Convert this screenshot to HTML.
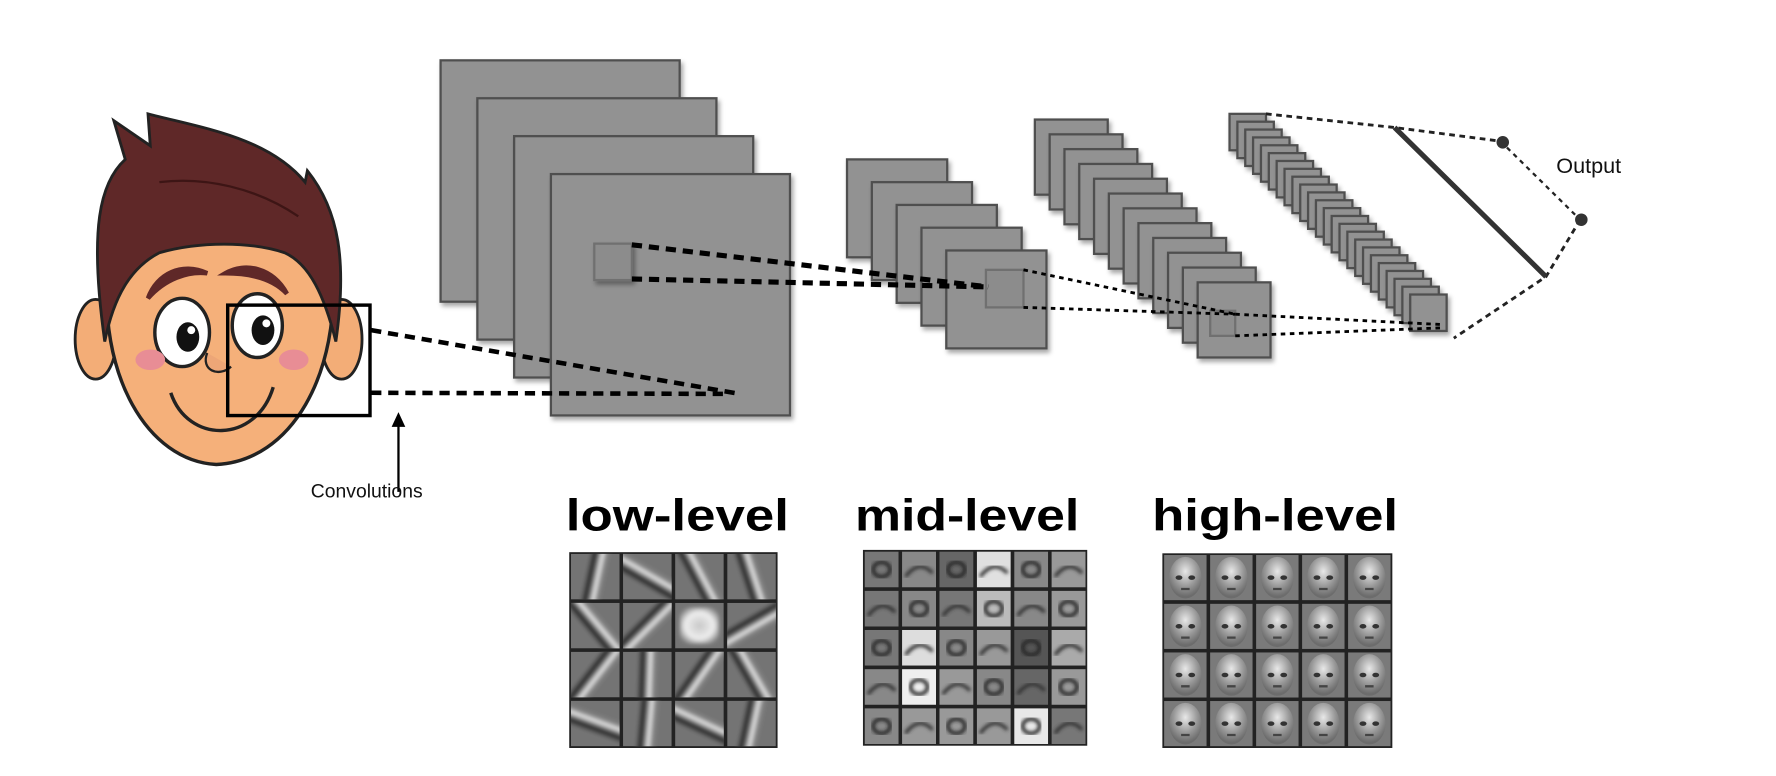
<!DOCTYPE html>
<html><head><meta charset="utf-8"><style>
html,body{margin:0;padding:0;background:#fff;width:1776px;height:776px;overflow:hidden}
svg{display:block}
</style></head><body>
<svg id="s" width="1776" height="776" viewBox="0 0 1560 681.6" preserveAspectRatio="none" xmlns="http://www.w3.org/2000/svg">
<defs>
<filter id="sh" x="-20%" y="-20%" width="150%" height="150%"><feDropShadow dx="2" dy="3" stdDeviation="2" flood-color="#000" flood-opacity="0.35"/></filter>
<filter id="bl"><feGaussianBlur stdDeviation="1.6"/></filter>
<linearGradient id="stripe" x1="0" x2="1" y1="0" y2="0">
<stop offset="0" stop-color="#777"/><stop offset="0.25" stop-color="#222"/><stop offset="0.45" stop-color="#777"/><stop offset="0.62" stop-color="#eee"/><stop offset="0.8" stop-color="#888"/><stop offset="1" stop-color="#777"/></linearGradient>
<radialGradient id="face" cx="0.5" cy="0.35" r="0.6"><stop offset="0" stop-color="#e8e8e8"/><stop offset="0.6" stop-color="#9a9a9a"/><stop offset="1" stop-color="#6c6c6c"/></radialGradient>
<radialGradient id="blob" cx="0.5" cy="0.5" r="0.6"><stop offset="0" stop-color="#c8c8c8"/><stop offset="0.6" stop-color="#eeeeee"/><stop offset="1" stop-color="#777"/></radialGradient>
</defs>

<!-- face -->
<g>
<ellipse cx="84" cy="298" rx="18" ry="35" fill="#f3ad77" stroke="#222" stroke-width="2.5"/>
<ellipse cx="300" cy="298" rx="18" ry="35" fill="#f3ad77" stroke="#222" stroke-width="2.5"/>
<path d="M95,230 C85,330 130,405 190,408 C255,405 300,330 292,230 C285,170 105,170 95,230 Z" fill="#f5b07a" stroke="#222" stroke-width="3"/>
<path d="M92,300 C78,200 88,160 110,140 L100,106 L132,128 L130,100 C175,112 235,120 268,160 L270,150 C298,185 305,230 295,300 C285,260 272,232 250,222 C220,212 175,212 140,222 C115,235 100,260 92,300 Z" fill="#5f2828" stroke="#222" stroke-width="2.5"/>
<path d="M140,160 C180,155 225,165 262,190" fill="none" stroke="#3d1515" stroke-width="2"/>
<path d="M130,262 C138,240 160,230 182,240 C165,238 145,245 130,262 Z" fill="#5f2828" stroke="#5f2828" stroke-width="4"/>
<path d="M198,240 C215,230 240,235 252,258 C240,245 220,240 198,240 Z" fill="#5f2828" stroke="#5f2828" stroke-width="4"/>
<ellipse cx="160" cy="292" rx="24" ry="30" fill="#fff" stroke="#222" stroke-width="3"/>
<ellipse cx="226" cy="286" rx="22" ry="28" fill="#fff" stroke="#222" stroke-width="3"/>
<ellipse cx="165" cy="296" rx="10" ry="13" fill="#111"/><circle cx="168" cy="290" r="3.5" fill="#fff"/>
<ellipse cx="231" cy="290" rx="10" ry="13" fill="#111"/><circle cx="234" cy="284" r="3.5" fill="#fff"/>
<ellipse cx="132" cy="316" rx="13" ry="9" fill="#e88d95"/>
<ellipse cx="258" cy="316" rx="13" ry="9" fill="#e88d95"/>
<path d="M182,310 C176,325 192,332 203,322" fill="#eda677" stroke="#222" stroke-width="2"/>
<path d="M150,345 C165,390 225,390 240,340" fill="none" stroke="#222" stroke-width="3"/>
<rect x="200" y="268" width="125" height="97" fill="none" stroke="#000" stroke-width="3"/>
</g>

<g>
<line x1="350" y1="432" x2="350" y2="372" stroke="#000" stroke-width="2"/>
<path d="M344,375 L350,362 L356,375 Z" fill="#000"/>
<text x="273" y="437" font-family="Liberation Sans, sans-serif" font-size="17" fill="#111">Convolutions</text>
</g>

<g id="layers"></g>

<!-- conv lines from face (over layers) -->
<g stroke="#000" stroke-width="4" stroke-dasharray="9 6" fill="none">
<line x1="326" y1="290" x2="650" y2="346"/>
<line x1="326" y1="345" x2="640" y2="346"/>
</g>

<!-- output -->
<g fill="none" stroke="#222">
<path d="M1112,100 L1225,112 L1318,124" stroke-width="2.5" stroke-dasharray="5 4"/>
<path d="M1318,124 L1388,193" stroke-width="2" stroke-dasharray="4 4"/>
<path d="M1388,193 L1358,243 L1277,297" stroke-width="2.5" stroke-dasharray="5 4"/>
<line x1="1225" y1="112" x2="1358" y2="243" stroke="#333" stroke-width="4.5"/>
</g>
<circle cx="1320" cy="125" r="5.5" fill="#333"/>
<circle cx="1389" cy="193" r="5.5" fill="#333"/>
<text x="1367" y="152" font-family="Liberation Sans, sans-serif" font-size="19" fill="#111">Output</text>

<!-- feature labels -->
<g font-family="Liberation Sans, sans-serif" font-weight="bold" font-size="39" fill="#000">
<text x="497" y="466" textLength="196" lengthAdjust="spacingAndGlyphs">low-level</text>
<text x="751" y="466" textLength="197" lengthAdjust="spacingAndGlyphs">mid-level</text>
<text x="1012" y="466" textLength="216" lengthAdjust="spacingAndGlyphs">high-level</text>
</g>
<g id="grids"></g>
</svg>
<script>
const NS='http://www.w3.org/2000/svg';
function mk(tag,attrs,parent){const e=document.createElementNS(NS,tag);for(const k in attrs)e.setAttribute(k,attrs[k]);parent.appendChild(e);return e;}
const L=document.getElementById('layers');
function stack(name,x0,y0,dx,dy,n,w,h){
  const g=mk('g',{},L);
  
  
  for(let i=0;i<n;i++){
    const r=mk('rect',{x:x0+dx*i,y:y0+dy*i,width:w,height:h,fill:'#929292',stroke:'#505050','stroke-width':2,filter:'url(#sh)'},g);
    
    
  }
  return g;
}
stack('conv-layer-1',387,53,32.3,33.3,4,210,212);
let k1=mk('rect',{x:522,y:214,width:33,height:32,fill:'#8c8c8c',stroke:'#707070','stroke-width':2,filter:'url(#sh)'},L);


stack('conv-layer-2',744,140,21.8,20,5,88,86);
let k2=mk('rect',{x:866,y:237,width:33,height:33,fill:'#8c8c8c',stroke:'#707070','stroke-width':2},L);


stack('conv-layer-3',909,105,13,13,12,64,66);
let k3=mk('rect',{x:1063,y:273,width:22,height:22,fill:'#8c8c8c',stroke:'#707070','stroke-width':2},L);


stack('pool-layer-4',1080,100,6.9,6.9,24,32,32);
const con=mk('g',{fill:'none',stroke:'#000'},L);


[[555,215,868,252,4.5,'9 6'],[555,245,868,252,4.5,'9 6'],[899,237,1085,276,2.5,'4 4'],[899,270,1085,276,2.5,'4 4'],[1085,276,1265,285,2.5,'4 4'],[1085,295,1265,288,2.5,'4 4']].forEach(a=>mk('line',{x1:a[0],y1:a[1],x2:a[2],y2:a[3],'stroke-width':a[4],'stroke-dasharray':a[5]},con));

const G=document.getElementById('grids');
function grid(name,x,y,w,h,cols,rows,draw){
  const g=mk('g',{},G);
  
  
  mk('rect',{x:x,y:y,width:w,height:h,fill:'#222'},g);
  const cw=w/cols,ch=h/rows;
  for(let r=0;r<rows;r++)for(let c=0;c<cols;c++){
    const cx=x+c*cw+1.5,cy=y+r*ch+1.5,ww=cw-3,hh=ch-3;
    const cg=mk('g',{},g);
    const id=name+r+'_'+c;
    const cl=mk('clipPath',{id:id},g);mk('rect',{x:cx,y:cy,width:ww,height:hh},cl);
    cg.setAttribute('clip-path','url(#'+id+')');
    draw(cg,cx,cy,ww,hh,r,c);
  }
}
const lowAngles=[[12,-60,-28,-18],[-40,45,null,60],[38,2,35,-30],[-70,5,-65,12]];
grid('low-level-filters',500,485,183,172,4,4,(g,x,y,w,h,r,c)=>{
  mk('rect',{x:x,y:y,width:w,height:h,fill:'#747474'},g);
  const a=lowAngles[r][c];
  if(a===null){mk('rect',{x:x+4,y:y+4,width:w-8,height:h-8,fill:'url(#blob)',filter:'url(#bl)'},g);return;}
  mk('rect',{x:x+w/2-9,y:y-h,width:18,height:h*3,fill:'url(#stripe)',filter:'url(#bl)',transform:`rotate(${a} ${x+w/2} ${y+h/2})`},g);
});
const midShade=[['#777','#888','#666','#e0e0e0','#888','#999'],['#777','#888','#777','#bbb','#888','#999'],['#777','#ddd','#888','#999','#555','#aaa'],['#888','#eee','#999','#888','#666','#999'],['#888','#999','#999','#999','#e8e8e8','#777']];
grid('mid-level-features',758,483,197,172,6,5,(g,x,y,w,h,r,c)=>{
  mk('rect',{x:x,y:y,width:w,height:h,fill:midShade[r][c]},g);
  if((r+c)%2===0)mk('ellipse',{cx:x+w/2,cy:y+h/2,rx:w/4,ry:h/5,fill:'none',stroke:'#222','stroke-width':3,filter:'url(#bl)'},g);
  else mk('path',{d:`M${x+3},${y+h*0.7} Q${x+w/2},${y+h*0.2} ${x+w-3},${y+h*0.6}`,fill:'none',stroke:'#333','stroke-width':3,filter:'url(#bl)'},g);
});
grid('high-level-features',1021,486,202,171,5,4,(g,x,y,w,h,r,c)=>{
  mk('rect',{x:x,y:y,width:w,height:h,fill:'#7a7a7a'},g);
  mk('ellipse',{cx:x+w/2,cy:y+h/2,rx:w*0.38,ry:h*0.46,fill:'url(#face)'},g);
  mk('ellipse',{cx:x+w*0.35,cy:y+h*0.5,rx:3,ry:2,fill:'#333'},g);
  mk('ellipse',{cx:x+w*0.65,cy:y+h*0.5,rx:3,ry:2,fill:'#333'},g);
  mk('line',{x1:x+w*0.4,y1:y+h*0.75,x2:x+w*0.6,y2:y+h*0.75,stroke:'#444','stroke-width':2},g);
});
</script>
</body></html>
